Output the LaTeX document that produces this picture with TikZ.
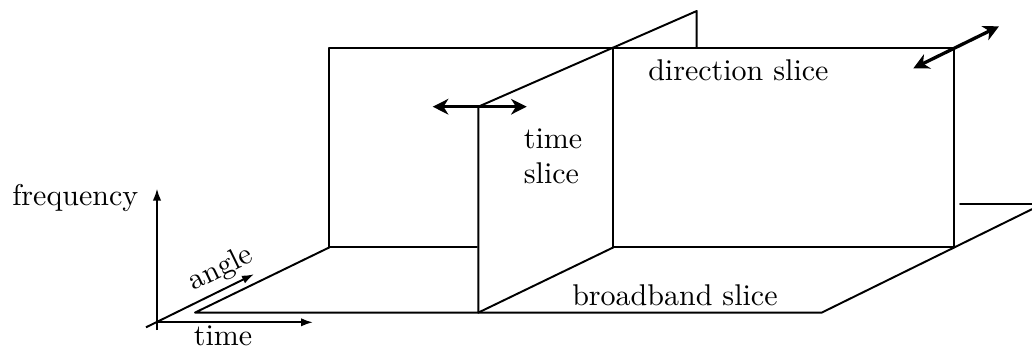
\documentclass[tikz,border=0pt]{standalone}
\usetikzlibrary{arrows.meta}
\begin{document}
\begin{tikzpicture}[x=0.33333pt,y=-0.33333pt,
  edge/.style={line width=0.65pt, line cap=round, line join=round},
  axis/.style={line width=0.65pt, -{Latex[length=4pt,width=2.8pt]}},
  move/.style={line width=1.1pt, {Stealth[length=5.2pt,width=5.2pt,inset=1.6pt]}-{Stealth[length=5.2pt,width=5.2pt,inset=1.6pt]}},
  lbl/.style={inner sep=0pt, anchor=base west, font=\fontsize{10}{12}\selectfont}]
\useasboundingbox (0,0) rectangle (1032,349);
% coordinates
\coordinate (O) at (157,322.3);
\coordinate (Fbot) at (157,330);
\coordinate (Ftip) at (157,188.5);
\coordinate (Ttip) at (313,322.3);
\coordinate (Astart) at (146,327.3);
\coordinate (Atip) at (254,274.2);
\coordinate (fl1) at (195,312.6);
\coordinate (fl2) at (821.7,312.6);
\coordinate (fl3) at (1032,209.2);
\coordinate (bk1) at (329.3,247.4);
\coordinate (bk2) at (329.3,47.7);
\coordinate (bk3) at (954.3,47.7);
\coordinate (bk4) at (954.3,247.4);
\coordinate (hid1) at (477,247.4);
\coordinate (ds1) at (613.3,47.7);
\coordinate (ds2) at (613.3,247.4);
\coordinate (ts1) at (478.3,312.6);
\coordinate (ts2) at (478.3,106.7);
\coordinate (ts3) at (696.7,11);
\coordinate (ts4) at (696.7,47.7);
\coordinate (rp1) at (960,204.3);
\coordinate (rp2) at (1032,204.3);
\coordinate (m1a) at (432.7,106.7);
\coordinate (m1b) at (526.7,106.7);
\coordinate (m2a) at (913.3,68.3);
\coordinate (m2b) at (999,26.3);
% axes
\draw[axis] (Fbot) -- (Ftip);
\draw[axis] (O) -- (Ttip);
\draw[axis] (Astart) -- (Atip);
% floor
\draw[edge] (bk1) -- (fl1) -- (fl2) -- (fl3);
\draw[edge] (bk1) -- (hid1);
\draw[edge] (ds2) -- (bk4);
% back plane
\draw[edge] (bk1) -- (bk2) -- (bk3) -- (bk4);
\draw[edge] (ds1) -- (ds2);
% time slice
\draw[edge] (ts1) -- (ts2) -- (ts3) -- (ts4);
\draw[edge] (ts1) -- (ds2);
% right plane
\draw[edge] (rp1) -- (rp2);
% movement arrows
\draw[move] (m1a) -- (m1b);
\draw[move] (m2a) -- (m2b);
% labels
\node[lbl] (freq) at (11.7,205) {frequency};
\node[lbl] (time) at (193.3,345) {time};
\node[lbl, rotate=26] (angle) at (193,291) {angle};
\node[lbl] (tsa) at (523.3,148.3) {time};
\node[lbl] (tsb) at (523.3,183.3) {slice};
\node[lbl] (dir) at (647.7,80) {direction slice};
\node[lbl] (bb) at (571.7,305) {broadband slice};
\end{tikzpicture}
\end{document}
